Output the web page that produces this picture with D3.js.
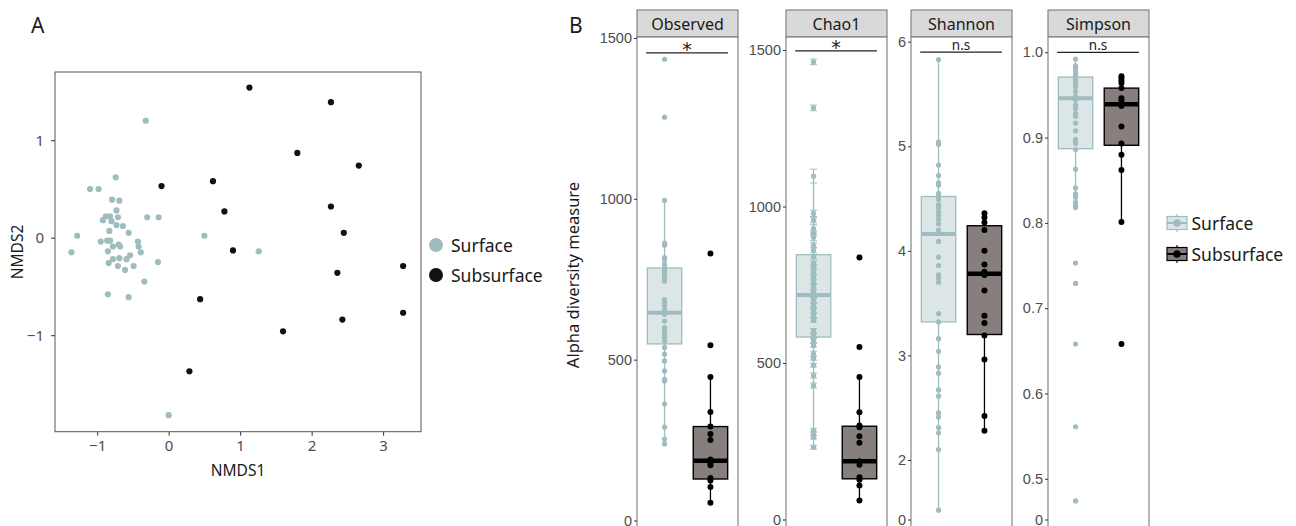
<!DOCTYPE html>
<html>
<head>
<meta charset="utf-8">
<script src="https://cdn.jsdelivr.net/npm/d3@7"></script>
<style>
  body { margin: 0; background: #fff; }
  text { font-family: "Noto Sans", sans-serif; }
</style>
</head>
<body>
<script>
// ---- data ----
var groups = ["Surface", "Subsurface"];

// panel A: NMDS ordination
var nmdsSurfX = [-0.32,-0.74,-1.10,-0.98,-0.79,-0.69,-0.73,-0.88,-0.82,-0.92,-0.80,-0.71,-0.73,-0.64,-0.30,-0.14,-0.83,-0.56,-1.28,0.50,-0.95,-0.86,-0.82,-0.78,-0.70,-0.68,-0.43,-0.42,-0.39,-1.36,-0.85,1.26,-0.54,-0.69,-0.78,-0.59,-0.84,-0.15,-0.71,-0.49,-0.61,-0.34,-0.85,-0.56,0.00];
var nmdsSurfY = [1.20,0.62,0.50,0.50,0.39,0.38,0.28,0.22,0.22,0.18,0.17,0.21,0.13,0.12,0.21,0.21,0.07,0.05,0.02,0.02,-0.04,-0.03,-0.03,-0.09,-0.07,-0.09,-0.04,-0.09,-0.15,-0.15,-0.14,-0.14,-0.18,-0.21,-0.22,-0.22,-0.26,-0.25,-0.29,-0.29,-0.33,-0.45,-0.58,-0.61,-1.82];
var nmdsSubX = [1.13,2.27,1.80,2.66,-0.10,0.62,0.78,2.27,2.45,0.90,2.36,3.28,3.28,2.43,0.44,1.60,0.29];
var nmdsSubY = [1.54,1.39,0.87,0.74,0.53,0.58,0.27,0.32,0.05,-0.13,-0.36,-0.29,-0.77,-0.84,-0.63,-0.96,-1.37];
var nmdsXTicks = [-1, 0, 1, 2, 3];
var nmdsYTicks = [-1, 0, 1];

// panel B: alpha diversity
var measures = ["Observed", "Chao1", "Shannon", "Simpson"];
var sigLabels = ["*", "*", "n.s", "n.s"];
var sigLevel = [1454, 1497, 5.90, 1.0];

var obsSurf = [1434,1254,995,862,856,817,811,796,786,775,765,755,744,687,677,667,656,641,620,600,589,579,569,558,538,517,496,465,439,434,362,290,253,238];
var obsSub = [830,545,446,337,292,269,250,190,178,172,132,124,104,55];
// [lower whisker, q1, median, q3, upper whisker]
var obsSurfBox = [238,549,646,785,995];
var obsSubBox = [55,129,186,292,446];

var chaoSurf = [1462,1315,1097,978,956,930,914,901,876,860,839,818,807,791,775,759,743,727,716,700,684,668,652,636,604,588,572,556,530,515,493,460,428,285,274,263,231];
var chaoSurfSE = [9,9,22,10,8,12,8,10,8,8,6,8,6,8,6,6,8,6,6,6,6,6,6,6,6,6,6,6,8,6,6,8,8,6,6,6,6];
var chaoSub = [837,551,455,343,300,295,266,245,186,175,135,127,109,61];
var chaoSurfBox = [231,583,717,846,1097];
var chaoSubBox = [61,130,186,298,455];

var shanSurf = [5.83,5.04,5.02,4.82,4.72,4.65,4.63,4.55,4.52,4.49,4.44,4.41,4.37,4.34,4.30,4.26,4.20,4.17,4.09,3.94,3.86,3.77,3.74,3.70,3.40,3.32,3.16,3.04,2.89,2.83,2.67,2.61,2.45,2.41,2.31,2.26,2.10,1.52];
var shanSub = [4.36,4.32,4.27,4.20,4.00,3.87,3.80,3.77,3.62,3.38,3.31,3.19,2.96,2.42,2.28];
var shanSurfBox = [1.52,3.32,4.16,4.52,5.83];
var shanSubBox = [2.28,3.20,3.78,4.24,4.36];

var simpSurf = [0.992,0.984,0.981,0.977,0.973,0.968,0.964,0.960,0.954,0.948,0.944,0.938,0.934,0.928,0.925,0.917,0.908,0.898,0.895,0.893,0.886,0.863,0.841,0.834,0.830,0.824,0.820,0.818,0.753,0.729,0.658,0.561,0.474];
var simpSub = [0.972,0.970,0.967,0.964,0.958,0.946,0.943,0.937,0.913,0.893,0.880,0.862,0.801,0.658];
var simpSurfBox = [0.818,0.887,0.946,0.971,0.992];
var simpSubBox = [0.801,0.891,0.939,0.958,0.972];

var obsTicks = [0, 500, 1000, 1500];
var chaoTicks = [0, 500, 1000, 1500];
var shanTicks = [0, 2, 3, 4, 5, 6];
var simpTicks = [0, 0.5, 0.6, 0.7, 0.8, 0.9, 1.0];

// ---- styling ----
var surfCol = "#9fbdbe", surfFill = "#dce6e6";
var subCol = "#000000", subFill = "#877f7e";
var tickCol = "#4d4d4d";

var svg = d3.select("body").append("svg")
    .attr("width", 1296)
    .attr("height", 526);

// ================= panel A =================
var xA = d3.scaleLinear().domain([-1.59, 3.53]).range([55, 421]);
var yA = d3.scaleLinear().domain([-1.99, 1.70]).range([431.7, 72]);

svg.append("text").attr("x", 31).attr("y", 33)
  .style("font-size", "21px").style("fill", "#1a1a1a").text("A");

svg.append("rect")
  .attr("x", xA.range()[0]).attr("y", yA.range()[1])
  .attr("width", xA.range()[1] - xA.range()[0])
  .attr("height", yA.range()[0] - yA.range()[1])
  .attr("fill", "none").attr("stroke", "#555").attr("stroke-width", 1);

var axA = svg.append("g")
  .attr("transform", "translate(0," + yA.range()[0] + ")")
  .call(d3.axisBottom(xA).tickValues(nmdsXTicks).tickSize(4).tickPadding(5).tickFormat(d3.format("")));
var ayA = svg.append("g")
  .attr("transform", "translate(" + xA.range()[0] + ",0)")
  .call(d3.axisLeft(yA).tickValues(nmdsYTicks).tickSize(4).tickPadding(7).tickFormat(d3.format("")));
[axA, ayA].forEach(function(g) {
  g.select(".domain").remove();
  g.selectAll(".tick line").attr("stroke", "#333");
  g.selectAll(".tick text").style("font-family", "Noto Sans, sans-serif")
    .style("font-size", "15px").attr("fill", tickCol);
});

svg.append("text").attr("x", 238).attr("y", 476).attr("text-anchor", "middle")
  .style("font-size", "15.5px").style("fill", "#1a1a1a").text("NMDS1");
svg.append("text").attr("transform", "translate(23,252) rotate(-90)")
  .attr("text-anchor", "middle")
  .style("font-size", "15.5px").style("fill", "#1a1a1a").text("NMDS2");

svg.append("g").selectAll("circle")
  .data(d3.zip(nmdsSurfX, nmdsSurfY))
  .enter().append("circle")
  .attr("cx", function(d) { return xA(d[0]); })
  .attr("cy", function(d) { return yA(d[1]); })
  .attr("r", 3.1).attr("fill", surfCol);

svg.append("g").selectAll("circle")
  .data(d3.zip(nmdsSubX, nmdsSubY))
  .enter().append("circle")
  .attr("cx", function(d) { return xA(d[0]); })
  .attr("cy", function(d) { return yA(d[1]); })
  .attr("r", 3.1).attr("fill", "#111");

// legend A
var legA = svg.append("g").selectAll("g")
  .data(groups).enter().append("g")
  .attr("transform", function(d, i) { return "translate(436," + (245 + i * 30) + ")"; });
legA.append("circle").attr("r", 7)
  .attr("fill", function(d, i) { return i === 0 ? surfCol : "#111"; });
legA.append("text").attr("x", 15).attr("y", 6.5)
  .style("font-size", "17.5px").style("fill", "#1a1a1a")
  .text(function(d) { return d; });

// ================= panel B =================
svg.append("text").attr("x", 569).attr("y", 33)
  .style("font-size", "21px").style("fill", "#1a1a1a").text("B");

svg.append("text").attr("transform", "translate(579,275) rotate(-90)")
  .attr("text-anchor", "middle")
  .style("font-size", "16.5px").style("fill", "#1a1a1a").text("Alpha diversity measure");

var panelLeft = [637, 786, 911, 1048];
var panelW = 101, stripTop = 10, stripH = 27, panelBottom = 540;

var panels = [
  { surf: obsSurf, sub: obsSub, surfBox: obsSurfBox, subBox: obsSubBox, ticks: obsTicks,
    y: d3.scaleLinear().domain([0, 1500]).range([520.5, 38]), fmt: d3.format("d") },
  { surf: chaoSurf, sub: chaoSub, surfBox: chaoSurfBox, subBox: chaoSubBox, ticks: chaoTicks, se: chaoSurfSE,
    y: d3.scaleLinear().domain([0, 1500]).range([519.5, 50]), fmt: d3.format("d") },
  { surf: shanSurf, sub: shanSub, surfBox: shanSurfBox, subBox: shanSubBox, ticks: shanTicks,
    y: d3.scaleLinear().domain([0, 1.45, 6]).range([519.5, 517.5, 41.7]), fmt: d3.format("d") },
  { surf: simpSurf, sub: simpSub, surfBox: simpSurfBox, subBox: simpSubBox, ticks: simpTicks,
    y: d3.scaleLinear().domain([0, 0.46, 1.0]).range([519.5, 512.9, 52.3]),
    fmt: function(d) { return d === 0 ? "0" : d3.format(".1f")(d); } }
];

panels.forEach(function(p, i) {
  var left = panelLeft[i];
  var x = d3.scalePoint().domain(groups).range([left, left + panelW]).padding(0.6);
  var bw = x.step() * 0.75;
  var g = svg.append("g");

  // strip
  g.append("rect").attr("x", left).attr("y", stripTop)
    .attr("width", panelW).attr("height", stripH)
    .attr("fill", "#d9d9d9").attr("stroke", "#7a7a7a").attr("stroke-width", 1.1);
  g.append("text").attr("x", left + panelW / 2).attr("y", stripTop + 19.5)
    .attr("text-anchor", "middle")
    .style("font-size", "16px").style("fill", "#1a1a1a").text(measures[i]);

  // panel frame
  g.append("rect").attr("x", left).attr("y", stripTop + stripH)
    .attr("width", panelW).attr("height", panelBottom - stripTop - stripH)
    .attr("fill", "#fff").attr("stroke", "#7a7a7a").attr("stroke-width", 1.1);

  // y axis
  var ax = g.append("g").attr("transform", "translate(" + left + ",0)")
    .call(d3.axisLeft(p.y).tickValues(p.ticks).tickSize(3).tickPadding(2).tickFormat(p.fmt));
  ax.select(".domain").remove();
  ax.selectAll(".tick line").attr("stroke", "#333");
  ax.selectAll(".tick text").style("font-family", "Liberation Sans, Arial, sans-serif")
    .style("font-size", "14.5px").attr("fill", tickCol);

  // boxes
  var boxes = [
    { key: groups[0], b: p.surfBox, stroke: surfCol, fill: surfFill, sw: 1.3, mw: 4 },
    { key: groups[1], b: p.subBox, stroke: "#000", fill: subFill, sw: 1.4, mw: 4.5 }
  ];
  boxes.forEach(function(bx) {
    var cx = x(bx.key);
    g.append("line").attr("x1", cx).attr("x2", cx)
      .attr("y1", p.y(bx.b[0])).attr("y2", p.y(bx.b[4]))
      .attr("stroke", bx.stroke).attr("stroke-width", 1.3);
    g.append("rect").attr("x", cx - bw / 2).attr("y", p.y(bx.b[3]))
      .attr("width", bw).attr("height", p.y(bx.b[1]) - p.y(bx.b[3]))
      .attr("fill", bx.fill).attr("stroke", bx.stroke).attr("stroke-width", bx.sw);
    g.append("line").attr("x1", cx - bw / 2).attr("x2", cx + bw / 2)
      .attr("y1", p.y(bx.b[2])).attr("y2", p.y(bx.b[2]))
      .attr("stroke", bx.stroke).attr("stroke-width", bx.mw);
  });

  // chao1 standard errors
  if (p.se) {
    var eb = g.append("g").selectAll("g")
      .data(d3.zip(p.surf, p.se)).enter().append("g");
    eb.append("line").attr("x1", x(groups[0])).attr("x2", x(groups[0]))
      .attr("y1", function(d) { return p.y(d[0] - d[1]); })
      .attr("y2", function(d) { return p.y(d[0] + d[1]); })
      .attr("stroke", surfCol).attr("stroke-width", 1);
    [-1, 1].forEach(function(s) {
      eb.append("line").attr("x1", x(groups[0]) - 3.5).attr("x2", x(groups[0]) + 3.5)
        .attr("y1", function(d) { return p.y(d[0] + s * d[1]); })
        .attr("y2", function(d) { return p.y(d[0] + s * d[1]); })
        .attr("stroke", surfCol).attr("stroke-width", 1);
    });
  }

  // points
  g.append("g").selectAll("circle").data(p.surf).enter().append("circle")
    .attr("cx", x(groups[0])).attr("cy", function(d) { return p.y(d); })
    .attr("r", 2.6).attr("fill", surfCol);
  g.append("g").selectAll("circle").data(p.sub).enter().append("circle")
    .attr("cx", x(groups[1])).attr("cy", function(d) { return p.y(d); })
    .attr("r", 3).attr("fill", subCol);

  // significance bracket
  var sy = p.y(sigLevel[i]);
  var sx1 = x(groups[0]) - x.step() * 0.4, sx2 = x(groups[1]) + x.step() * 0.38;
  g.append("line").attr("x1", sx1).attr("x2", sx2).attr("y1", sy).attr("y2", sy)
    .attr("stroke", "#222").attr("stroke-width", 1.3);
  g.append("text").attr("x", (sx1 + sx2) / 2)
    .attr("y", sigLabels[i] === "*" ? sy + 3 : sy - 2.5)
    .attr("text-anchor", "middle")
    .style("font-family", sigLabels[i] === "*" ? "DejaVu Sans, sans-serif" : "Noto Sans, sans-serif")
    .style("font-size", sigLabels[i] === "*" ? "19px" : "13.5px")
    .style("fill", "#1a1a1a").text(sigLabels[i]);
});

// legend B
var legB = svg.append("g").selectAll("g")
  .data(groups).enter().append("g")
  .attr("transform", function(d, i) { return "translate(1177," + (223 + i * 31) + ")"; });
legB.append("line").attr("x1", 0).attr("x2", 0).attr("y1", -9).attr("y2", 9)
  .attr("stroke", function(d, i) { return i === 0 ? surfCol : "#000"; }).attr("stroke-width", 1.1);
legB.append("rect").attr("x", -10).attr("y", -6.5).attr("width", 20).attr("height", 13)
  .attr("fill", function(d, i) { return i === 0 ? surfFill : subFill; })
  .attr("stroke", function(d, i) { return i === 0 ? surfCol : "#000"; }).attr("stroke-width", 1.2);
legB.append("line").attr("x1", -10).attr("x2", 10).attr("y1", 0).attr("y2", 0)
  .attr("stroke", function(d, i) { return i === 0 ? surfCol : "#000"; }).attr("stroke-width", 2);
legB.append("circle").attr("r", 3.8)
  .attr("fill", function(d, i) { return i === 0 ? surfCol : "#000"; });
legB.append("text").attr("x", 14.5).attr("y", 6.5)
  .style("font-size", "17.5px").style("fill", "#1a1a1a")
  .text(function(d) { return d; });
</script>
</body>
</html>
